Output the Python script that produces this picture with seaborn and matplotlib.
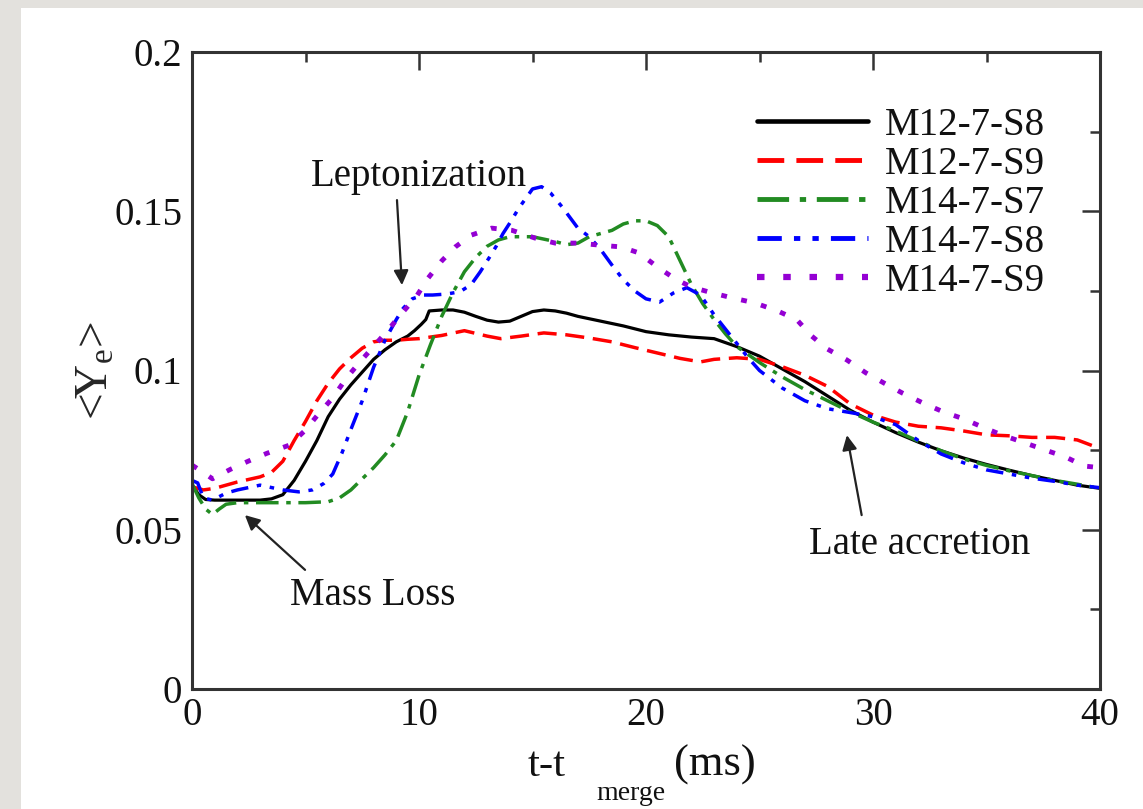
import matplotlib
matplotlib.use("Agg")
import matplotlib.pyplot as plt
import seaborn as sns
import pandas as pd
from matplotlib.patches import Rectangle
from matplotlib.ticker import MultipleLocator

# ---------------- data ----------------
labels = ["M12-7-S8", "M12-7-S9", "M14-7-S7", "M14-7-S8", "M14-7-S9"]

t_m12_s8 = [0, 0.3, 0.6, 1, 2, 3, 3.5, 4, 4.5, 5, 5.5, 6, 6.5, 7, 7.5, 8, 8.5, 9, 9.5, 9.8,
            10.1, 10.3, 10.45, 11, 11.5, 12, 12.5, 13, 13.5, 14, 14.5, 15, 15.5, 16, 16.5, 17,
            18, 19, 20, 21, 22, 23, 24, 25, 26, 27, 28, 29, 30, 31, 32, 33, 34, 35, 36, 37,
            38, 39, 40]
y_m12_s8 = [0.064, 0.061, 0.0595, 0.0593, 0.0593, 0.0593, 0.0597, 0.061, 0.0655, 0.0715,
            0.078, 0.0855, 0.091, 0.0955, 0.0995, 0.1035, 0.1065, 0.109, 0.1108, 0.1125,
            0.1145, 0.116, 0.1187, 0.119, 0.119, 0.1183, 0.117, 0.1158, 0.1152, 0.1155,
            0.117, 0.1185, 0.119, 0.1187, 0.118, 0.117, 0.1155, 0.114, 0.1122, 0.1112,
            0.1105, 0.110, 0.1075, 0.1045, 0.1005, 0.0965, 0.092, 0.0875, 0.0838, 0.0805,
            0.0775, 0.0748, 0.0725, 0.0705, 0.0687, 0.067, 0.0655, 0.064, 0.063]

t_m12_s9 = [0, 0.5, 1, 2, 3, 3.5, 4, 4.5, 5, 5.5, 6, 6.5, 7, 7.5, 8, 8.5, 9, 9.5, 10, 11,
            12, 13, 13.6, 14.5, 15.5, 16.5, 17.5, 18.5, 19.5, 20.5, 21.5, 22.4, 23, 24,
            25, 26, 27, 28, 29, 30, 31, 32, 33, 34, 35, 36, 37, 38, 39, 40]
y_m12_s9 = [0.0635, 0.0625, 0.063, 0.065, 0.0666, 0.068, 0.0715, 0.078, 0.084, 0.0905,
            0.096, 0.1005, 0.104, 0.107, 0.109, 0.1095, 0.1095, 0.1098, 0.110, 0.111,
            0.1125, 0.1108, 0.110, 0.1108, 0.1118, 0.1112, 0.1102, 0.109, 0.1072, 0.1055,
            0.1038, 0.1027, 0.1035, 0.104, 0.1035, 0.1012, 0.0985, 0.095, 0.0895, 0.086,
            0.0838, 0.0825, 0.082, 0.081, 0.0798, 0.0795, 0.079, 0.079, 0.0782, 0.0755]

t_m14_s7 = [0, 0.3, 0.6, 0.9, 1.2, 1.5, 2, 3, 4, 5, 6, 6.5, 7, 7.5, 8, 8.5, 9, 9.5, 10,
            10.5, 11, 11.5, 12, 12.5, 13, 13.5, 14, 15, 16, 16.5, 17, 17.5, 18, 18.5, 19,
            19.5, 20, 20.5, 21, 21.5, 22, 22.5, 23, 23.5, 24, 25, 26, 27, 28, 29, 30, 31,
            32, 33, 34, 35, 36, 37, 38, 39, 40]
y_m14_s7 = [0.0645, 0.060, 0.0565, 0.0548, 0.0565, 0.058, 0.0585, 0.0585, 0.0585, 0.0585,
            0.0588, 0.060, 0.0625, 0.066, 0.0695, 0.0735, 0.078, 0.087, 0.0985, 0.108,
            0.117, 0.1245, 0.131, 0.1355, 0.139, 0.141, 0.142, 0.142, 0.1405, 0.1395,
            0.140, 0.142, 0.143, 0.144, 0.146, 0.147, 0.147, 0.1455, 0.142, 0.1345, 0.127,
            0.121, 0.116, 0.1115, 0.1075, 0.1025, 0.098, 0.094, 0.0905, 0.087, 0.0838,
            0.081, 0.0778, 0.0748, 0.0722, 0.0702, 0.0685, 0.067, 0.0655, 0.0643, 0.063]

t_m14_s8 = [0, 0.25, 0.5, 0.9, 1.5, 2, 3, 4, 4.7, 5.3, 5.8, 6.2, 6.6, 7, 7.5, 8, 8.5, 9,
            9.3, 9.7, 10.2, 10.6, 11.2, 11.8, 12.3, 12.7, 13.1, 13.4, 13.7, 14, 14.4,
            14.7, 15, 15.4, 15.8, 16.3, 17, 17.5, 18, 18.5, 19, 19.5, 20, 20.6, 21.2,
            21.8, 22.4, 23, 23.5, 24, 24.5, 25, 26, 27, 28, 29, 30, 31, 32, 33, 34, 35,
            36, 37, 38, 39, 40]
y_m14_s8 = [0.0655, 0.0647, 0.060, 0.0593, 0.0615, 0.0625, 0.064, 0.0625, 0.0619, 0.0625,
            0.0645, 0.0675, 0.074, 0.0815, 0.0905, 0.101, 0.1095, 0.116, 0.1195, 0.1225,
            0.1237, 0.1237, 0.124, 0.1247, 0.127, 0.131, 0.1355, 0.139, 0.143, 0.1463,
            0.151, 0.154, 0.157, 0.1577, 0.1557, 0.1514, 0.1447, 0.142, 0.138, 0.1331,
            0.1285, 0.125, 0.1225, 0.1215, 0.1243, 0.126, 0.1237, 0.1175, 0.113, 0.1085,
            0.104, 0.100, 0.0945, 0.0905, 0.088, 0.0868, 0.0855, 0.083, 0.078, 0.0738,
            0.071, 0.0688, 0.0675, 0.0662, 0.0652, 0.064, 0.0632]

t_m14_s9 = [0, 0.5, 0.9, 1.7, 2.5, 3.3, 4.3, 5, 5.6, 6.2, 6.8, 7.4, 8.6, 9.25, 9.9, 10.4,
            11.0, 11.6, 12.3, 13.2, 14.1, 15.1, 16.0, 17.0, 17.9, 18.9, 19.7, 20.5, 21.3,
            22.0, 22.95, 23.8, 24.8, 25.8, 26.65, 27.3, 28.0, 28.85, 29.7, 30.5, 31.3,
            32.2, 33.1, 34.0, 34.8, 35.7, 36.6, 37.6, 38.5, 39.3, 40]
y_m14_s9 = [0.0703, 0.068, 0.066, 0.069, 0.0716, 0.074, 0.0766, 0.0813, 0.0866, 0.0914,
            0.0976, 0.1027, 0.1124, 0.118, 0.1234, 0.129, 0.1344, 0.1388, 0.1425, 0.1447,
            0.1440, 0.1416, 0.140, 0.140, 0.1394, 0.1388, 0.1369, 0.1325, 0.1287, 0.1262,
            0.1243, 0.1228, 0.1212, 0.1187, 0.1159, 0.1108, 0.1067, 0.1033, 0.0992, 0.096,
            0.0929, 0.0898, 0.087, 0.0848, 0.0823, 0.0797, 0.0775, 0.075, 0.0728, 0.070,
            0.0695]

series_t = [t_m12_s8, t_m12_s9, t_m14_s7, t_m14_s8, t_m14_s9]
series_y = [y_m12_s8, y_m12_s9, y_m14_s7, y_m14_s8, y_m14_s9]

x_ticks = [0, 10, 20, 30, 40]
y_ticks = [0, 0.05, 0.1, 0.15, 0.2]
y_tick_labels = ["0", "0.05", "0.1", "0.15", "0.2"]

# ---------------- style ----------------
colors = ["#000000", "#ff0000", "#228b22", "#0000ff", "#9400d3"]
styles = ["-", (0, (5.5, 2.5)), (0, (6.5, 2.2, 1.3, 2.2)),
          (0, (5.0, 2.5, 1.3, 2.5, 1.3, 2.5)), (0, (1.2, 3.0))]
widths = [2.3, 2.5, 2.5, 2.5, 3.5]

sns.set_theme(style="white")
plt.rcParams["font.family"] = ["Liberation Serif", "DejaVu Serif"]
plt.rcParams["mathtext.fontset"] = "custom"
plt.rcParams["mathtext.rm"] = "Liberation Serif"
plt.rcParams["mathtext.it"] = "Liberation Serif:italic"
plt.rcParams["text.color"] = "#111111"

W, H = 1143, 809
fig = plt.figure(figsize=(W / 100, H / 100), dpi=100)
fig.patch.set_facecolor("#e3e1dd")
fig.add_artist(Rectangle((21 / W, 0), 1 - 21 / W, (H - 8) / H, transform=fig.transFigure,
                         facecolor="white", edgecolor="none", zorder=0))

ax = fig.add_axes([192 / W, (H - 689) / H, (1100 - 192) / W, (689 - 52) / H])
ax.set_facecolor("white")

for t, y, lab, c, ls, lw in zip(series_t, series_y, labels, colors, styles, widths):
    df = pd.DataFrame({"t": t, "y": y})
    sns.lineplot(data=df, x="t", y="y", ax=ax, color=c, linestyle=ls, linewidth=lw,
                 label=lab, estimator=None, sort=False)

ax.set_xlim(0, 40)
ax.set_ylim(0, 0.2)
ax.set_xticks(x_ticks)
ax.set_xticklabels([str(v) for v in x_ticks])
ax.set_yticks(y_ticks)
ax.set_yticklabels(y_tick_labels)
ax.xaxis.set_minor_locator(MultipleLocator(5))
ax.yaxis.set_minor_locator(MultipleLocator(0.025))

for s in ax.spines.values():
    s.set_visible(True)
    s.set_color("#333333")
    s.set_linewidth(2.2)

ax.tick_params(which="both", direction="in", top=True, right=True, color="#333333",
               width=1.8, labelsize=28, labelcolor="#111111")
ax.tick_params(which="major", length=13)
ax.tick_params(which="minor", length=7)
ax.tick_params(axis="y", pad=7)
ax.tick_params(axis="x", pad=6)

# axis titles
ax.set_xlabel("")
ax.set_ylabel(r"<Y$_{\mathrm{e}}$>", fontsize=34)
ax.yaxis.set_label_coords((118 - 192) / 908, 0.5)


def px(x, y):
    return x / W, 1 - y / H


fig.text(*px(528, 776), "t-t", fontsize=31, ha="left", va="baseline")
fig.text(*px(596, 800), "merge", fontsize=20, ha="left", va="baseline")
fig.text(*px(674, 776), "(ms)", fontsize=32, ha="left", va="baseline")

leg = ax.legend(loc="upper left", bbox_to_anchor=((757 - 192) / 908, (689 - 107) / 637),
                frameon=False, fontsize=28, handlelength=2.85, handletextpad=0.45,
                labelspacing=0.05, borderpad=0, borderaxespad=0)
for h, lw in zip(leg.get_lines(), [3.3, 3.5, 3.5, 3.5, 4.5]):
    h.set_linewidth(lw)

# annotations
arrow_kw = dict(arrowstyle="-|>", color="#222222", lw=1.6, mutation_scale=22,
                shrinkA=0, shrinkB=0)
ax.text(10.0, 0.1610, "Leptonization", fontsize=28, ha="center", va="center")
ax.annotate("", xy=(9.25, 0.1268), xytext=(9.03, 0.1535), arrowprops=arrow_kw)
ax.text(7.97, 0.0292, "Mass Loss", fontsize=28, ha="center", va="center")
ax.annotate("", xy=(2.33, 0.0546), xytext=(4.98, 0.0374), arrowprops=arrow_kw)
ax.text(32.07, 0.0455, "Late accretion", fontsize=28, ha="center", va="center")
ax.annotate("", xy=(28.85, 0.0797), xytext=(29.5, 0.0546), arrowprops=arrow_kw)

fig.savefig("out.png", dpi=100, facecolor=fig.get_facecolor())
